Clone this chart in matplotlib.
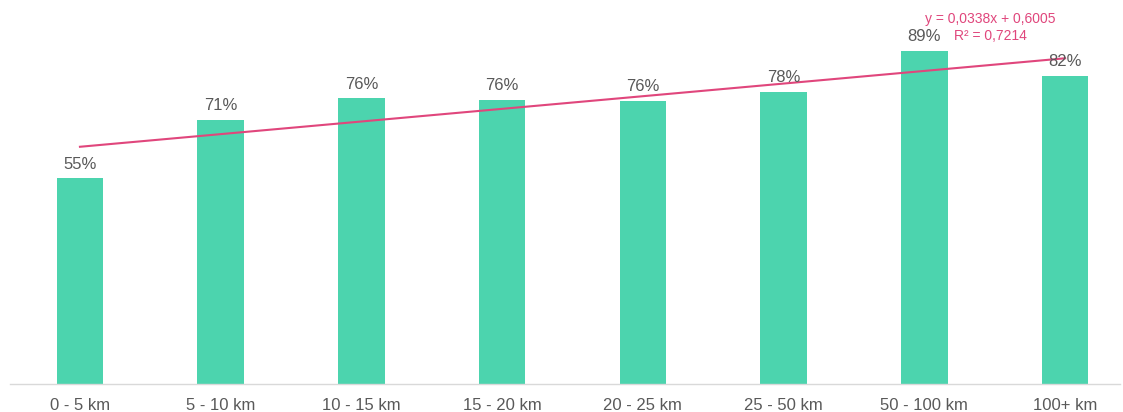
import numpy as np
import matplotlib.pyplot as plt

plt.rcParams['font.family'] = ['Liberation Sans', 'DejaVu Sans']

categories = ['0 - 5 km', '5 - 10 km', '10 - 15 km', '15 - 20 km',
              '20 - 25 km', '25 - 50 km', '50 - 100 km', '100+ km']
shares = [0.55, 0.706, 0.764, 0.760, 0.757, 0.781, 0.891, 0.823]
trend_slope = 0.0338
trend_icept = 0.6005
trend_r2 = 0.7214

bar_color = '#4cd4ae'
trend_color = '#e0467c'

fig = plt.figure(figsize=(11.23, 4.12), dpi=100)
ax = fig.add_axes([10 / 1123, 28 / 412, 1110 / 1123, 374 / 412])

x = np.arange(len(categories))
ax.bar(x, shares, width=0.33, color=bar_color, zorder=2)

for xi, v in zip(x, shares):
    ax.text(xi, v + 0.018, f'{v * 100:.0f}%', ha='center', va='bottom',
            fontsize=12, color='#595959', zorder=4)

trend = trend_slope * (x + 1) + trend_icept
ax.plot(x, trend, color=trend_color, lw=1.5, zorder=3)

ax.text(6.47, 0.975, f'y = {trend_slope:.4f}x + {trend_icept:.4f}'.replace('.', ','),
        ha='center', va='center', fontsize=10, color=trend_color)
ax.text(6.47, 0.93, f'R² = {trend_r2:.4f}'.replace('.', ','),
        ha='center', va='center', fontsize=10, color=trend_color)

ax.set_xlim(-0.497, 7.39)
ax.set_ylim(0, 1.0)
ax.set_xticks(x)
ax.set_xticklabels(categories, fontsize=12, color='#595959')
ax.tick_params(axis='x', length=0, pad=10)
ax.set_yticks([])
for s in ['top', 'right', 'left']:
    ax.spines[s].set_visible(False)
ax.spines['bottom'].set_color('#d9d9d9')
ax.spines['bottom'].set_linewidth(1)

fig.savefig('out.png', dpi=100)
